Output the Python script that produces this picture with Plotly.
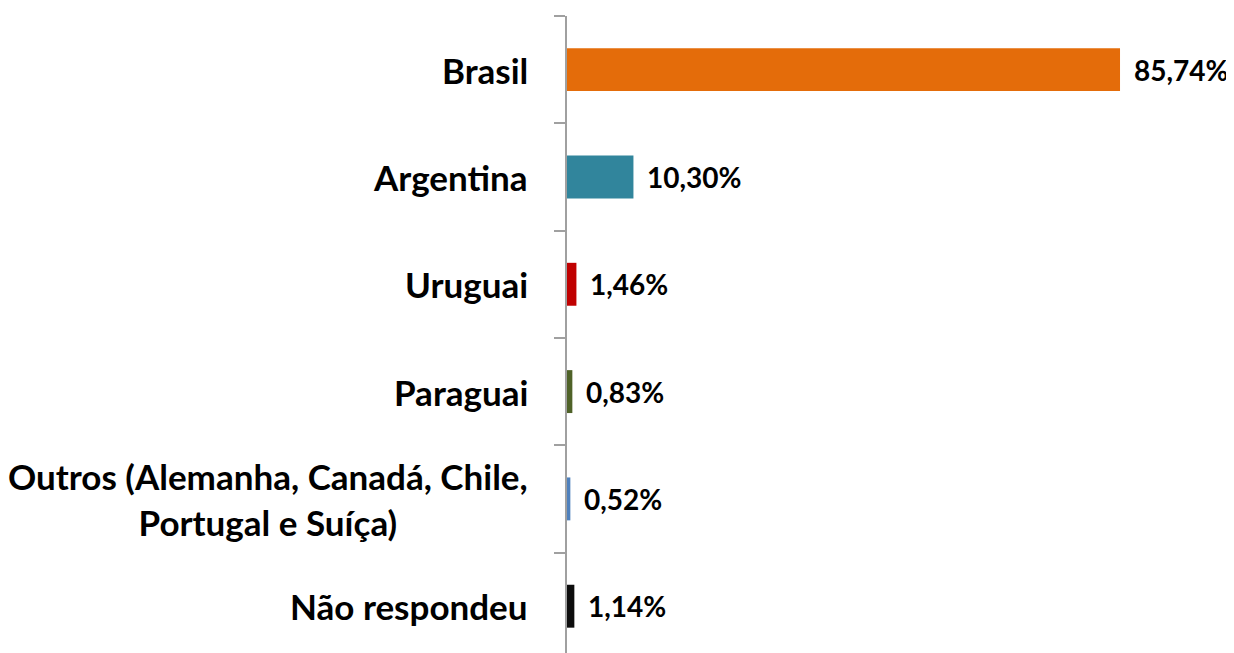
import plotly.graph_objects as go

categories = ["Brasil", "Argentina", "Uruguai", "Paraguai",
              "Outros (Alemanha, Canadá, Chile,<br>Portugal e Suíça)", "Não respondeu"]
values = [85.74, 10.30, 1.46, 0.83, 0.52, 1.14]
value_labels = ["85,74%", "10,30%", "1,46%", "0,83%", "0,52%", "1,14%"]
colors = ["#E46C0A", "#31859C", "#C00000", "#4F6228", "#4F81BD", "#0D0D0D"]

FONT = "Lato, Carlito, Calibri, sans-serif"
PLOT_W = 645

fig = go.Figure(go.Bar(
    x=values, y=list(range(len(categories))), orientation="h",
    marker=dict(color=colors, line=dict(width=0)),
    width=0.4, hoverinfo="skip",
))

for i, (v, t) in enumerate(zip(values, value_labels)):
    fig.add_annotation(x=v, y=i, xref="x", yref="y", text=t, showarrow=False,
                       xanchor="left", xshift=12,
                       font=dict(family=FONT, size=28, color="#000000", weight="bold"))
for i, c in enumerate(categories):
    fig.add_annotation(x=-37 / PLOT_W, y=i, xref="x domain", yref="y", text=c, showarrow=False,
                       xanchor="right", align="center",
                       font=dict(family=FONT, size=35, color="#000000", weight="bold"))

fig.update_layout(
    width=1226, height=645,
    margin=dict(l=559, r=1226 - 559 - PLOT_W, t=8, b=0),
    plot_bgcolor="white", paper_bgcolor="white",
    showlegend=False,
    xaxis=dict(visible=False, range=[0, 100]),
    yaxis=dict(range=[5.436, -0.5], tickmode="array", tickvals=[-0.5, 0.5, 1.5, 2.5, 3.5, 4.5],
               showticklabels=False, ticks="outside", ticklen=11, tickwidth=2,
               tickcolor="#A0A0A0", showline=True, linecolor="#A0A0A0", linewidth=2,
               showgrid=False, zeroline=False),
)
fig.write_html("out.html")
